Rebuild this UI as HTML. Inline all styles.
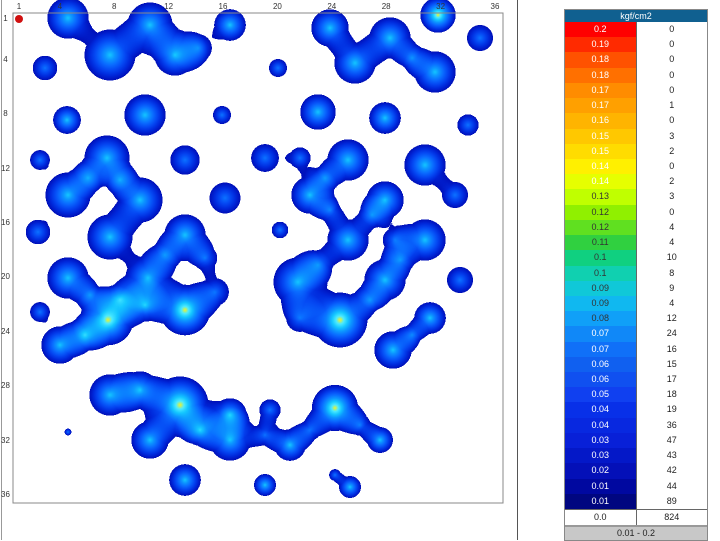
<!DOCTYPE html><html><head><style>
body{margin:0;width:720px;height:540px;background:#fff;overflow:hidden;font-family:"Liberation Sans",sans-serif;position:relative}
.t{position:absolute;font-size:8px;color:#333}
#leg{position:absolute;left:564px;top:9px;width:142px;border:1px solid #888}
#leg div.r{height:15.23px;display:flex;font-size:9px;line-height:15px}
#leg div.r span{width:71px;text-align:center}
#leg div.r span+span{background:#fff;color:#222;border-left:1px solid #666}
</style></head><body>
<div style="position:absolute;left:1px;top:0;width:515px;height:540px;border-left:1px solid #999;border-right:1px solid #555"></div>
<svg width="720" height="540" style="position:absolute;left:0;top:0">
<defs>
<radialGradient id="g0"><stop offset="0" stop-color="#fff" stop-opacity="0.62"/><stop offset="1" stop-color="#fff" stop-opacity="0"/></radialGradient>
<radialGradient id="g1"><stop offset="0" stop-color="#fff" stop-opacity="0.8"/><stop offset="1" stop-color="#fff" stop-opacity="0"/></radialGradient>
<radialGradient id="g2"><stop offset="0" stop-color="#fff" stop-opacity="1"/><stop offset="1" stop-color="#fff" stop-opacity="0"/></radialGradient>
<filter id="f" x="0" y="0" width="100%" height="100%" color-interpolation-filters="sRGB">
<feColorMatrix type="matrix" values="0 0 0 1 0  0 0 0 1 0  0 0 0 1 0  0 0 0 1 0"/>
<feComponentTransfer>
<feFuncR type="table" tableValues="0 0 0 0 0 0.02 0.04 0.05 0.08 0.3 0.95"/>
<feFuncG type="table" tableValues="0 0 0 0.06 0.16 0.28 0.42 0.58 0.78 0.92 0.95"/>
<feFuncB type="table" tableValues="0.7 0.7 0.7 0.72 0.86 0.95 1 1 1 1 0.15"/>
<feFuncA type="discrete" tableValues="0 0 0 1 1 1 1 1 1 1"/>
</feComponentTransfer>
</filter>
</defs>
<rect x="13" y="13" width="490" height="490" fill="#fff" stroke="#888"/>
<g filter="url(#f)"><rect x="0" y="0" width="516" height="540" fill="none"/><g id="b"></g></g>
<rect x="13" y="13" width="490" height="490" fill="none" stroke="#888"/>
<circle cx="19" cy="19" r="4" fill="#d01010"/>
</svg>
<div id="ticks"></div>
<div id="leg"><div style="background:#106090;color:#fff;font-size:9px;text-align:center;height:12px;line-height:12px">kgf/cm2</div></div>
<script>
var B=[[68,18,20,1],[110,55,25,1],[150,25,22,1],[175,55,20,1],[198,48,16,0],[45,68,14,0],[230,25,15,1],[278,68,10,0],
[330,28,18,1],[355,63,20,1],[390,38,20,1],[438,15,15,2],[435,72,20,1],[412,58,12,0],[480,38,15,0],
[67,120,13,1],[145,115,20,1],[222,115,10,0],
[40,160,11,0],[107,158,22,1],[185,160,17,0],
[68,195,22,1],[140,200,22,1],[225,198,18,0],[120,180,12,0],[88,178,12,0],
[38,232,14,0],[110,237,22,1],[185,235,20,1],[165,255,14,0],[205,258,14,0],
[68,278,20,1],[148,278,22,1],[215,292,16,0],[108,320,22,2],[185,310,22,2],[145,305,16,1],[120,300,15,1],[90,295,12,0],
[40,312,11,0],[60,345,18,1],[85,335,15,1],
[318,112,17,1],[385,118,15,1],[468,125,12,0],
[265,158,16,0],[300,158,12,0],[348,160,20,1],[310,195,18,1],[325,178,12,0],
[280,230,9,0],[385,200,18,1],[425,165,20,1],[455,195,15,0],[330,210,12,0],
[348,240,20,1],[425,240,20,1],[395,240,14,0],[372,215,12,0],[400,260,12,0],
[298,282,24,1],[385,280,20,1],[460,280,15,0],[318,265,15,0],[370,300,12,0],
[340,320,24,2],[300,318,16,0],[430,318,15,1],[393,350,18,1],[412,335,10,0],
[110,395,20,1],[140,390,18,1],[180,405,25,2],[230,415,16,1],[270,410,12,0],[335,408,20,2],[360,425,12,0],
[150,440,18,1],[200,430,15,1],[230,440,20,1],[290,445,15,1],[310,430,12,0],[380,440,12,1],[265,435,12,0],
[185,480,15,1],[265,485,10,1],[350,487,10,1],[335,475,6,0],[68,432,3,0]];
var g=document.getElementById('b'),s='';
B.forEach(function(b){s+='<circle cx="'+b[0]+'" cy="'+b[1]+'" r="'+(b[2]*1.55+2)+'" fill="url(#g'+b[3]+')"/>'});
g.innerHTML=s;
var t='';for(var i=1;i<=36;i+=(i==1?3:4)){var p=19+(i-1)*13.6;t+='<div class="t" style="left:'+(p-6)+'px;top:2px;width:12px;text-align:center">'+i+'</div><div class="t" style="left:0;top:'+(p-5)+'px;width:11px;text-align:center">'+i+'</div>';}
document.getElementById('ticks').innerHTML=t;
var V=[["0.2",0],["0.19",0],["0.18",0],["0.18",0],["0.17",0],["0.17",1],["0.16",0],["0.15",3],["0.15",2],["0.14",0],["0.14",2],["0.13",3],["0.12",0],["0.12",4],["0.11",4],["0.1",10],["0.1",8],["0.09",9],["0.09",4],["0.08",12],["0.07",24],["0.07",16],["0.06",15],["0.06",17],["0.05",18],["0.04",19],["0.04",36],["0.03",47],["0.03",43],["0.02",42],["0.01",44],["0.01",89]];
var C=["#ff0000","#ff2a00","#ff5200","#ff7000","#ff8c00","#ffa000","#ffb400","#ffc800","#ffdc00","#fff000","#e6ff00","#c0ff00","#90f000","#60e020","#30d040","#10d080","#10d0b0","#10c8d8","#10b8f0","#10a0f8","#1088f8","#1070f8","#1060f0","#1050f0","#1040f0","#0830e8","#0828e0","#0820d8","#0418c8","#0410b8","#0008a0","#000680"];
var L=document.getElementById('leg'),h='';
V.forEach(function(v,i){h+='<div class="r"><span style="background:'+C[i]+';color:'+(i>10&&i<20?'#333':'#fff')+'">'+v[0]+'</span><span>'+v[1]+'</span></div>'});
h+='<div class="r" style="border-top:1px solid #666"><span style="background:#fff;color:#222">0.0</span><span>824</span></div><div style="background:#c8c8c8;border-top:2px solid #999;font-size:9px;text-align:center;height:13px;line-height:13px;color:#222">0.01 - 0.2</div>';
L.innerHTML+=h;
</script>
</body></html>
